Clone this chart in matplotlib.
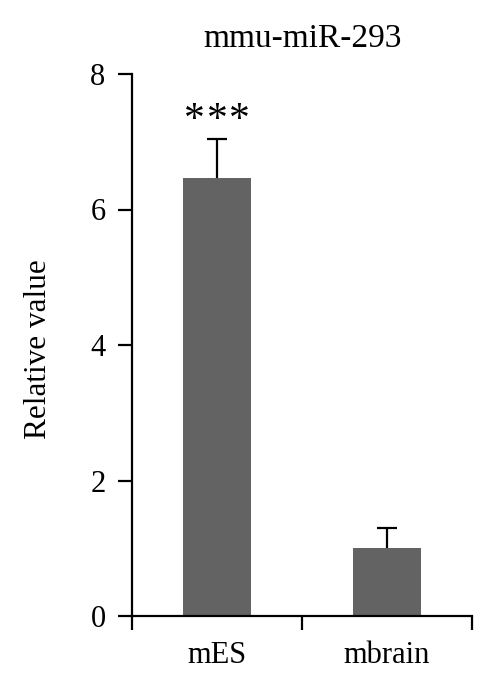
import numpy as np
import matplotlib.pyplot as plt

plt.rcParams['font.family'] = ['Liberation Serif', 'DejaVu Serif']

# data
groups = ["mES", "mbrain"]
values = [6.46, 1.0]
errors = [0.58, 0.30]
title = "mmu-miR-293"
ylabel = "Relative value"
star = "*"
n_stars = 3

fig = plt.figure(figsize=(4.94, 6.96), dpi=100)
ax = fig.add_axes([132/494, 1-616/696, 340/494, 542/696])

pos = np.arange(len(groups)) + 0.5
ax.bar(pos, values, width=0.4, color="#636363", zorder=2)
eb = ax.errorbar(pos, values, yerr=[np.zeros(len(errors)), errors], fmt="none",
                 ecolor="black", elinewidth=1.6, capsize=7.5, capthick=1.6, zorder=3)
# only the upper caps
for cl in eb[1]:
    if np.allclose(cl.get_ydata(), values):
        cl.set_visible(False)

# significance stars, spaced a little wider than the font does
for k in range(n_stars):
    ax.text(pos[0] + (k - 1) * 0.13, values[0] + errors[0] + 0.12, star,
            ha="center", va="baseline", fontsize=30)

ax.set_xlim(0, 2)
ax.set_ylim(0, 8)
ax.set_yticks([0, 2, 4, 6, 8])
ax.set_xticks([0, 1, 2])
ax.set_xticklabels([])
ax.set_xticks(pos, minor=True)
ax.set_xticklabels(groups, minor=True)
ax.tick_params(axis="x", which="major", direction="out", length=10, width=1.6)
ax.tick_params(axis="x", which="minor", length=0, pad=18, labelsize=22)
ax.tick_params(axis="y", direction="out", length=10, width=1.6, pad=9, labelsize=22)

for s in ["top", "right"]:
    ax.spines[s].set_visible(False)
for s in ["left", "bottom"]:
    ax.spines[s].set_linewidth(1.6)

ax.set_ylabel(ylabel, fontsize=22.5)
ax.yaxis.set_label_coords(-0.232, 0.493)
fig.text(302/494, 1-47/696, title, ha="center", va="baseline", fontsize=24)

fig.savefig("out.png", dpi=100)
